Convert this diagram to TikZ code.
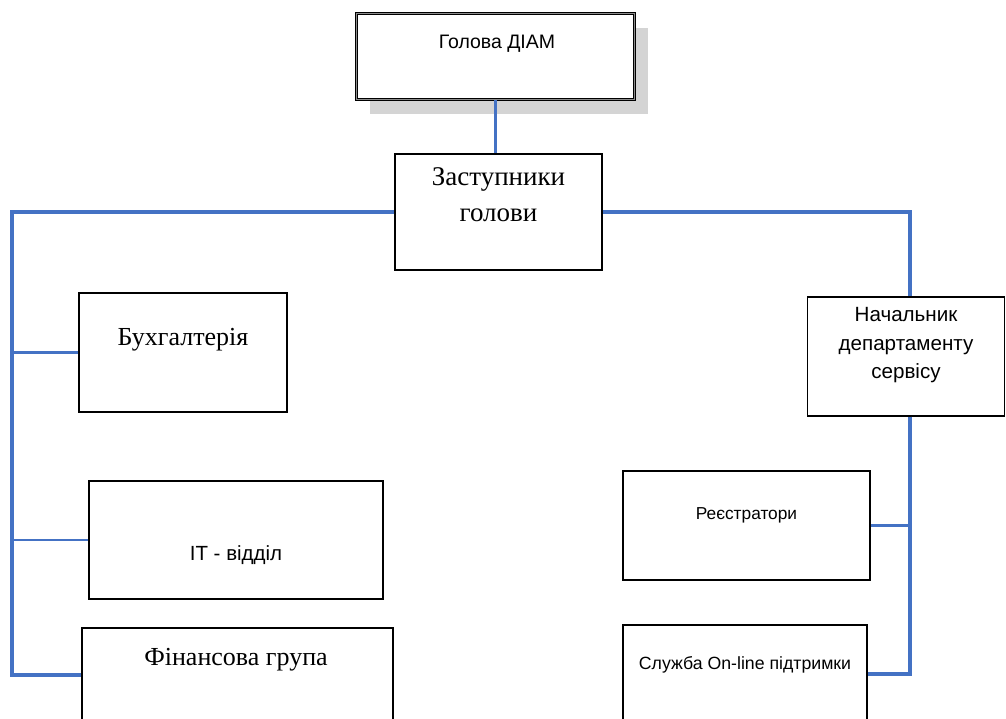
\documentclass[tikz,border=0pt]{standalone}
\usepackage{fontspec}
\setmainfont{Liberation Serif}
\newfontfamily\uasans{Liberation Sans}
\usepackage{tikz}
\usetikzlibrary{calc,shadows}
\definecolor{linkblue}{RGB}{68,114,196}
\tikzset{
	unit/.style={rectangle,draw,line width=1.1pt,inner sep=0pt,fill=white},
	bossunit/.style={unit,double=black!45,line width=1.2pt,double distance=1pt,
		drop shadow={shadow xshift=13pt,shadow yshift=-14pt,fill=black!17,opacity=1}},
	sanstext/.style={inner sep=0pt,align=center},
	seriftext/.style={inner sep=0pt,align=center,font=\fontsize{26}{36}\selectfont},
	link/.style={draw=linkblue,line width=3.2pt},
	thinlink/.style={draw=linkblue,line width=1.1pt}
}

\begin{document}
\begin{tikzpicture}[x=1pt,y=-1pt]
		\clip (0,0) rectangle (1006,718);
		% boxes
		\node[bossunit,minimum width=278pt,minimum height=86pt] (boss) at (495.5,56.5) {};
		\node[unit,minimum width=207pt,minimum height=116pt] (deputy) at (498.5,212) {};
		\node[unit,minimum width=208pt,minimum height=119pt] (acc) at (183,352.5) {};
		\node[unit,minimum width=294pt,minimum height=118pt] (it) at (236,540) {};
		\node[unit,minimum width=311pt,minimum height=130pt] (fin) at (237.5,693) {};
		\node[unit,minimum width=197pt,minimum height=119pt] (head) at (906,356.5) {};
		\node[unit,minimum width=247pt,minimum height=109pt] (reg) at (746.5,525.5) {};
		\node[unit,minimum width=244pt,minimum height=130pt] (sup) at (745,690) {};
		
		% texts
		\node[sanstext,font=\uasans\fontsize{19.5}{24}\selectfont] (boss-t) at ($(boss.north) + (1.5,31)$) {Голова ДІАМ};
		\node[seriftext,font=\fontsize{27}{36}\selectfont] (deputy-t) at ($(deputy.north) + (0,41.5)$) {Заступники\\голови};
		\node[seriftext] (acc-t) at ($(acc.north) + (0,47)$) {Бухгалтерія};
		\node[sanstext,font=\uasans\fontsize{20.5}{24}\selectfont] (it-t) at ($(it.north) + (0,75)$) {IT - відділ};
		\node[seriftext] (fin-t) at ($(fin.north) + (-1.5,32)$) {Фінансова група};
		\node[sanstext,font=\uasans\fontsize{20.6}{28.5}\selectfont] (head-t) at ($(head.north) + (0,49)$) {Начальник\\департаменту\\сервісу};
		\node[sanstext,font=\uasans\fontsize{17.3}{21}\selectfont] (reg-t) at ($(reg.north) + (0,45)$) {Реєстратори};
		\node[sanstext,font=\uasans\fontsize{17.7}{21}\selectfont] (sup-t) at ($(sup.north) + (0,40)$) {Служба On-line підтримки};
		
		% connectors
		\coordinate (lcorner) at (12,212);
		\coordinate (lend) at (12,675);
		\coordinate (rcorner) at (910,212);
		\coordinate (rend) at (910,674);
		\draw[link] (boss.south) -- (boss.south |- deputy.north);
		\draw[link] (deputy.west) -- (lcorner) -- (lend) -- (lend -| fin.west);
		\draw[link] (acc.west) -- (acc.west -| lcorner);
		\draw[thinlink] (it.west) -- (it.west -| lcorner);
		\draw[link] (deputy.east) -- (rcorner) -- (rcorner |- head.north);
		\draw[link] (rcorner |- head.south) -- (rend) -- (rend -| sup.east);
		\draw[link] (reg.east) -- (reg.east -| rcorner);
		\end{tikzpicture}
\end{document}
